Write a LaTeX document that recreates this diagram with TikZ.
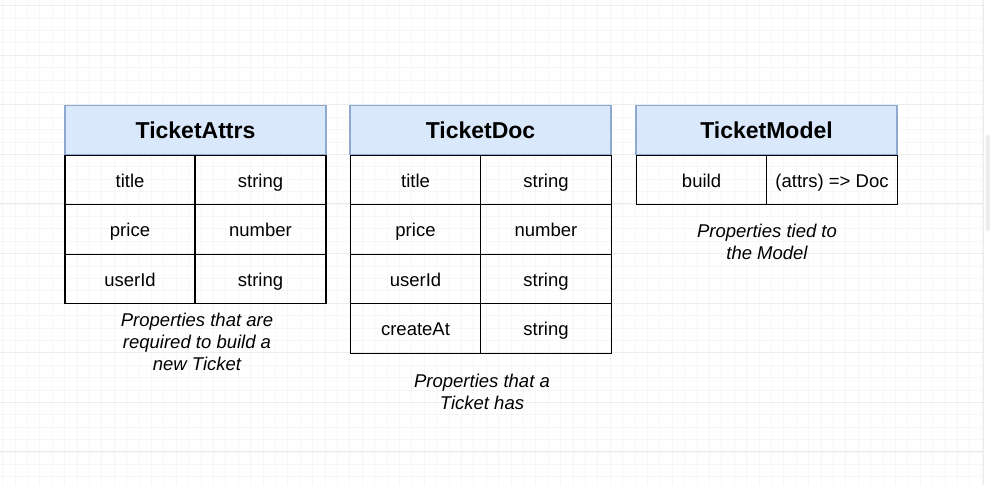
\documentclass[tikz,border=0pt]{standalone}
\usepackage{fontspec}
\setmainfont{Liberation Sans}
\definecolor{hdrfill}{HTML}{DAE8FC}
\definecolor{hdrdraw}{HTML}{8FA8CF}
\definecolor{gridminor}{HTML}{F6F6F6}
\definecolor{gridmajor}{HTML}{ECECEC}
\begin{document}
\begin{tikzpicture}[x=1pt,y=-1pt,
  hdr/.style={draw=hdrdraw,fill=hdrfill,line width=1.1pt,minimum width=261pt,minimum height=49.6pt,inner sep=0pt,text height=17.5pt,text depth=0pt,font=\fontsize{23}{27}\selectfont\bfseries},
  cell/.style={draw=black,line width=1.2pt,minimum height=49.6pt,inner sep=0pt,text height=14pt,text depth=0pt,font=\fontsize{18.5}{22}\selectfont},
  lc/.style={cell,minimum width=130pt},
  rc/.style={cell,minimum width=131pt},
  captxt/.style={align=center,font=\fontsize{18.5}{22}\selectfont\itshape}]
\useasboundingbox (0,0) rectangle (990,485);
\fill[white] (0,0) rectangle (990,485);
% grid
\foreach \i in {0,...,80} {\draw[gridminor,line width=0.6pt] (2.5+12.4*\i,0) -- (2.5+12.4*\i,485);}
\foreach \i in {0,...,39} {\draw[gridminor,line width=0.6pt] (0,5.4+12.4*\i) -- (983,5.4+12.4*\i);}
\foreach \i in {-1,...,8} {\draw[gridmajor,line width=0.8pt] (0,55+49.6*\i) -- (983,55+49.6*\i);}
\draw[gridmajor,line width=0.8pt] (983,0) -- (983,485);
\fill[gray!15,rounded corners=1.5pt] (985.5,135) rectangle (990,231);
% TicketAttrs
\node[hdr] (h1) at (195.5,130) {TicketAttrs};
\node[lc] (a11) at (130,180) {title};
\node[rc] (a12) at (260.5,180) {string};
\node[lc] (a21) at (130,229.5) {price};
\node[rc] (a22) at (260.5,229.5) {number};
\node[lc] (a31) at (130,279) {userId};
\node[rc] (a32) at (260.5,279) {string};
\node[captxt] (c1) at (197,342) {Properties that are\\required to build a\\new Ticket};
% TicketDoc
\node[hdr] (h2) at (480.5,130) {TicketDoc};
\node[lc] (b11) at (415.5,180) {title};
\node[rc] (b12) at (546,180) {string};
\node[lc] (b21) at (415.5,229.5) {price};
\node[rc] (b22) at (546,229.5) {number};
\node[lc] (b31) at (415.5,279) {userId};
\node[rc] (b32) at (546,279) {string};
\node[lc] (b41) at (415.5,328.5) {createAt};
\node[rc] (b42) at (546,328.5) {string};
\node[captxt] (c2) at (482,392) {Properties that a\\Ticket has};
% TicketModel
\node[hdr] (h3) at (766.5,130) {TicketModel};
\node[lc] (m11) at (701.5,180) {build};
\node[rc] (m12) at (832,180) {(attrs) => Doc};
\node[captxt] (c3) at (767,242) {Properties tied to\\the Model};
\end{tikzpicture}
\end{document}
